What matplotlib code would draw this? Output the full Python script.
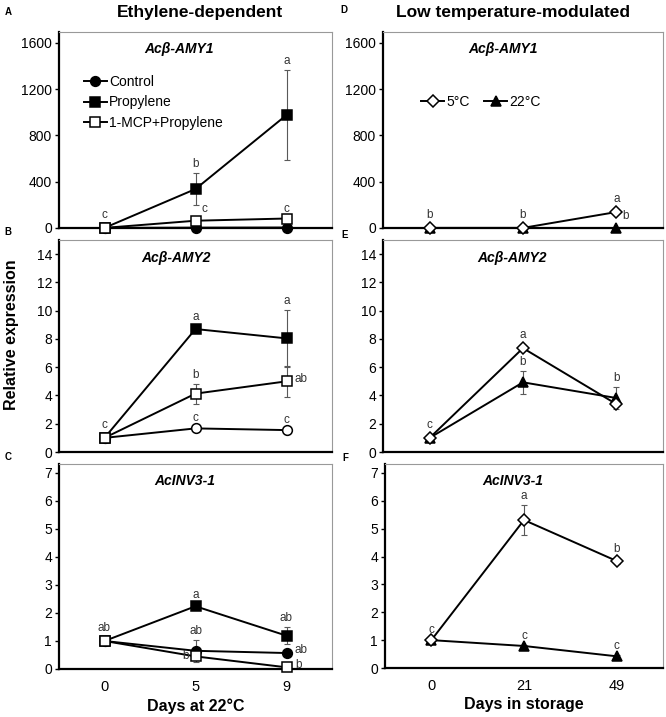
import matplotlib
matplotlib.use('Agg')
import matplotlib.pyplot as plt

plt.rcParams['font.family'] = ['Liberation Sans', 'DejaVu Sans']

# ---- data ----
days_eth = ['0', '5', '9']
days_cold = ['0', '21', '49']

# Acb-AMY1, ethylene
amy1_control = [1, 3, 4]
amy1_control_err = [0, 0, 0]
amy1_prop = [1, 337, 977]
amy1_prop_err = [0, 140, 390]
amy1_mcp = [1, 63, 82]
amy1_mcp_err = [0, 8, 10]

# Acb-AMY2, ethylene
amy2_control = [1, 1.67, 1.55]
amy2_control_err = [0, 0.1, 0.1]
amy2_prop = [1, 8.7, 8.04]
amy2_prop_err = [0, 0.2, 2.0]
amy2_mcp = [1, 4.13, 5.0]
amy2_mcp_err = [0, 0.7, 1.1]

# AcINV3-1, ethylene
inv_control = [1, 0.65, 0.57]
inv_control_err = [0, 0.4, 0.05]
inv_prop = [1, 2.24, 1.19]
inv_prop_err = [0, 0.08, 0.3]
inv_mcp = [1, 0.45, 0.06]
inv_mcp_err = [0, 0.05, 0.03]

# low temperature
amy1_5c = [1, 1, 138]
amy1_5c_err = [0, 0, 0]
amy1_22c = [1, 1, 1]
amy1_22c_err = [0, 0, 0]

amy2_5c = [1, 7.35, 3.39]
amy2_5c_err = [0, 0, 0.1]
amy2_22c = [1, 4.93, 3.82]
amy2_22c_err = [0, 0.8, 0.8]

inv_5c = [1, 5.31, 3.84]
inv_5c_err = [0, 0.53, 0.12]
inv_22c = [1, 0.79, 0.42]
inv_22c_err = [0.05, 0.05, 0.05]

# significance letters
amy1_prop_let = [None, 'b', 'a']
amy1_mcp_let = ['c', 'c', 'c']
amy2_prop_let = [None, 'a', 'a']
amy2_mcp_let = ['c', 'b', 'ab']
amy2_control_let = [None, 'c', 'c']
inv_prop_let = [None, 'a', 'ab']
inv_control_let = [None, 'ab', 'ab']
inv_mcp_let = ['ab', 'b', 'b']
amy1_5c_let = [None, None, 'a']
amy1_22c_let = ['b', 'b', 'b']
amy2_5c_let = ['c', 'a', None]
amy2_22c_let = [None, 'b', 'b']
inv_5c_let = [None, 'a', 'b']
inv_22c_let = ['c', 'c', 'c']

W, H = 666, 717
fig = plt.figure(figsize=(W / 100, H / 100), dpi=100)


def px_axes(left, top, right, bottom):
    return fig.add_axes([left / W, 1 - bottom / H, (right - left) / W, (bottom - top) / H])


def style_axes(ax, ymax, yticks, xlabels, show_x=False):
    ax.set_xlim(-0.5, 2.5)
    ax.set_ylim(0, ymax)
    ax.set_yticks(yticks)
    ax.set_xticks(range(len(xlabels)))
    ax.set_xticklabels(xlabels)
    for s in ['top', 'right']:
        ax.spines[s].set_color('0.6')
        ax.spines[s].set_linewidth(0.8)
    for s in ['left', 'bottom']:
        ax.spines[s].set_color('black')
        ax.spines[s].set_linewidth(1.6)
    ax.tick_params(axis='y', direction='out', length=3, width=1, labelsize=10, pad=2)
    ax.tick_params(axis='x', length=0, labelsize=10.5, pad=8, labelbottom=show_x)


def plot_series(ax, values, errors, marker, face, ms, label=None):
    x = range(len(values))
    ax.errorbar(x, values, yerr=errors, fmt='none', ecolor='0.35',
                elinewidth=0.8, capsize=2.5, capthick=0.8, zorder=2)
    ax.plot(x, values, color='black', lw=1.4, marker=marker, mfc=face, mec='black',
            mew=1.1, ms=ms, label=label, zorder=3, clip_on=False)


def put_letters(ax, values, errors, letters, where=None):
    for i, (v, e, t) in enumerate(zip(values, errors, letters)):
        if not t:
            continue
        w = where[i] if where else 'above'
        if w == 'above':
            dy = 2 if e > 0 else 5
            ax.annotate(t, (i, v + e), xytext=(0, dy), textcoords='offset points',
                        ha='center', va='bottom', fontsize=8.5, color='0.2')
        elif w == 'right':
            ax.annotate(t, (i, v), xytext=(6, 2), textcoords='offset points',
                        ha='left', va='center', fontsize=8.5, color='0.2')
        elif w == 'left':
            ax.annotate(t, (i, v), xytext=(-5, 0), textcoords='offset points',
                        ha='right', va='center', fontsize=8.5, color='0.2')
        elif w == 'upright':
            ax.annotate(t, (i, v), xytext=(4, 4), textcoords='offset points',
                        ha='left', va='bottom', fontsize=8.5, color='0.2')


def gene_title(ax, name, x):
    ax.text(x, 0.915, name, transform=ax.transAxes, ha='center', va='center',
            fontsize=10, fontweight='bold', style='italic')


# ---- Ethylene-dependent column ----
axA = px_axes(59, 32, 332, 228)
style_axes(axA, 1695, [0, 400, 800, 1200, 1600], days_eth)
plot_series(axA, amy1_control, amy1_control_err, 'o', 'black', 7, 'Control')
plot_series(axA, amy1_prop, amy1_prop_err, 's', 'black', 7.5, 'Propylene')
plot_series(axA, amy1_mcp, amy1_mcp_err, 's', 'white', 7.5, '1-MCP+Propylene')
put_letters(axA, amy1_prop, amy1_prop_err, amy1_prop_let)
put_letters(axA, amy1_mcp, amy1_mcp_err, amy1_mcp_let, ['above', 'upright', 'above'])
gene_title(axA, 'Acβ-AMY1', 0.44)
axA.legend(loc='upper left', bbox_to_anchor=(0.09, 0.78), frameon=False, fontsize=10,
           handlelength=1.7, handletextpad=0.15, labelspacing=0.45, borderpad=0,
           borderaxespad=0)

axB = px_axes(59, 240, 332, 452)
style_axes(axB, 15, range(0, 15, 2), days_eth)
plot_series(axB, amy2_control, amy2_control_err, 'o', 'white', 7)
plot_series(axB, amy2_prop, amy2_prop_err, 's', 'black', 7.5)
plot_series(axB, amy2_mcp, amy2_mcp_err, 's', 'white', 7.5)
put_letters(axB, amy2_control, amy2_control_err, amy2_control_let)
put_letters(axB, amy2_prop, amy2_prop_err, amy2_prop_let)
put_letters(axB, amy2_mcp, amy2_mcp_err, amy2_mcp_let, ['above', 'above', 'right'])
gene_title(axB, 'Acβ-AMY2', 0.43)

axC = px_axes(59, 464, 332, 669)
style_axes(axC, 7.32, range(0, 8), days_eth, show_x=True)
plot_series(axC, inv_control, inv_control_err, 'o', 'black', 7)
plot_series(axC, inv_prop, inv_prop_err, 's', 'black', 7.5)
plot_series(axC, inv_mcp, inv_mcp_err, 's', 'white', 7.5)
put_letters(axC, inv_prop, inv_prop_err, inv_prop_let)
put_letters(axC, inv_control, inv_control_err, inv_control_let, ['above', 'above', 'right'])
put_letters(axC, inv_mcp, inv_mcp_err, inv_mcp_let, ['above', 'left', 'right'])
gene_title(axC, 'AcINV3-1', 0.46)
axC.set_xlabel('Days at 22°C', fontsize=11.5, fontweight='bold', labelpad=3)

# ---- Low temperature-modulated column ----
axD = px_axes(383, 32, 663, 228)
style_axes(axD, 1695, [0, 400, 800, 1200, 1600], days_cold)
plot_series(axD, amy1_22c, amy1_22c_err, '^', 'black', 7.5, '22°C')
plot_series(axD, amy1_5c, amy1_5c_err, 'D', 'white', 6, '5°C')
put_letters(axD, amy1_5c, amy1_5c_err, amy1_5c_let)
put_letters(axD, amy1_22c, amy1_22c_err, amy1_22c_let, ['above', 'above', 'upright'])
gene_title(axD, 'Acβ-AMY1', 0.43)
h, l = axD.get_legend_handles_labels()
axD.legend(h[::-1], l[::-1], loc='center left', bbox_to_anchor=(0.135, 0.643), ncol=2,
           frameon=False, fontsize=10, handlelength=1.7, handletextpad=0.15,
           columnspacing=1.0, borderpad=0, borderaxespad=0)

axE = px_axes(383, 240, 663, 452)
style_axes(axE, 15, range(0, 15, 2), days_cold)
plot_series(axE, amy2_22c, amy2_22c_err, '^', 'black', 7.5)
plot_series(axE, amy2_5c, amy2_5c_err, 'D', 'white', 6)
put_letters(axE, amy2_5c, amy2_5c_err, amy2_5c_let)
put_letters(axE, amy2_22c, amy2_22c_err, amy2_22c_let)
gene_title(axE, 'Acβ-AMY2', 0.46)

axF = px_axes(385, 464, 663, 668)
style_axes(axF, 7.32, range(0, 8), days_cold, show_x=True)
plot_series(axF, inv_22c, inv_22c_err, '^', 'black', 7.5)
plot_series(axF, inv_5c, inv_5c_err, 'D', 'white', 6)
put_letters(axF, inv_5c, inv_5c_err, inv_5c_let)
put_letters(axF, inv_22c, inv_22c_err, inv_22c_let)
gene_title(axF, 'AcINV3-1', 0.46)
axF.set_xlabel('Days in storage', fontsize=11.5, fontweight='bold', labelpad=3)

# ---- figure labels ----
fig.text(200 / W, 1 - 12 / H, 'Ethylene-dependent', ha='center', va='center',
         fontsize=12.5, fontweight='bold')
fig.text(513 / W, 1 - 12 / H, 'Low temperature-modulated', ha='center', va='center',
         fontsize=12.5, fontweight='bold')
fig.text(12 / W, 1 - 335 / H, 'Relative expression', rotation=90, ha='center',
         va='center', fontsize=11.5, fontweight='bold')
for letter, x, y in [('A', 8, 12), ('B', 8, 232), ('C', 8, 457),
                     ('D', 344, 10), ('E', 345, 235), ('F', 345, 458)]:
    fig.text(x / W, 1 - y / H, letter, ha='center', va='center', fontsize=7,
             fontweight='bold')

fig.savefig('out.png', dpi=100)
